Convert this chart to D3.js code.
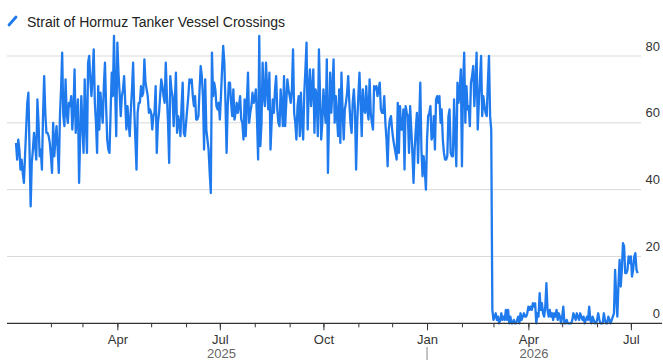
<!DOCTYPE html>
<html>
<head>
<meta charset="utf-8">
<script src="https://cdn.jsdelivr.net/npm/d3@7"></script>
<style>
  html, body { margin: 0; padding: 0; background: #fff; }
  svg { display: block; font-family: "Liberation Sans", Arial, Helvetica, sans-serif; }
</style>
</head>
<body>
<svg id="chart" width="663" height="361"></svg>
<script>
// ---- data ----
const seriesName = "Strait of Hormuz Tanker Vessel Crossings";
const firstDay = "2025-01-01";
const values2025 = [
  54,49,55,52,46,49,45,42,50,58, 66,69,52,35,48,52,57,53,49,67,
  60,50,52,46,62,74,63,57,57,56, 54,50,45,60,50,55,59,52,45,62,
  70,81,62,59,73,63,60,66,65,68, 58,64,76,57,62,67,42,56,68,59,
  51,73,60,51,78,80,73,68,74,82, 66,60,51,71,58,69,64,60,71,78,
  65,55,52,51,63,75,68,86,70,56, 84,75,69,62,68,70,74,66,58,65,
  60,56,64,70,78,64,55,46,63,66, 66,71,68,69,79,72,70,68,63,64,
  63,58,62,63,71,51,60,63,68,73, 71,68,66,78,68,60,48,74,70,68,
  59,66,75,57,62,60,56,65,72,57, 56,60,64,68,73,72,73,68,65,68,
  61,61,62,70,77,74,68,52,73,58, 55,52,45,39,81,68,72,70,65,64,
  66,61,68,76,83,78,66,51,65,72, 72,66,62,70,61,63,66,63,65,68,
  61,60,55,67,56,66,75,60,63,65, 69,66,67,70,61,49,86,53,60,78,
  68,65,78,70,64,75,52,60,67,63, 70,74,64,60,59,70,65,59,74,59,
  66,73,70,68,66,70,82,63,60,55, 65,68,56,69,60,55,69,76,84,58,
  70,76,65,70,76,57,70,68,56,82, 68,55,60,70,64,60,79,45,62,75,
  63,70,79,60,68,62,56,70,54,75, 64,55,64,66,69,74,66,60,57,66,
  70,64,46,60,68,75,66,56,70,64, 63,71,64,61,73,63,60,58,71,70,
  71,68,70,72,64,63,63,68,60,55, 47,58,61,62,58,55,53,51,49,66,
  51,65,58,58,64,46,65,63,62,51, 65,58,51,42,52,58,63,48,60,72,
  52,44,50,46,40
];
const values2026 = [
  55,62,63,65,55,56,62,52,67,68, 66,68,60,64,55,51,49,49,50,62,
  64,51,50,50,67,56,47,72,66,70, 76,47,72,81,60,71,64,65,59,72,
  74,77,65,72,81,58,66,73,80,62, 68,65,63,62,72,80,62,58,
  4,1,2,3,1,2,0,1,3,1, 2,1,4,1,4,0,2,0,0,1,
  0,0,1,2,0,3,1,2,3,2, 2,3,5,4,5,4,6,5,6,0,
  3,2,9,4,6,3,2,5,12,4, 2,4,2,3,1,3,2,4,1,3,
  2,0,2,5,0,0,1,0,0,0, 0,1,3,2,1,3,2,1,3,2,
  1,2,0,1,2,1,5,1,0,2, 1,0,0,1,3,1,0,0,0,3,
  1,0,0,2,1,0,1,2,3,16, 8,2,12,19,11,16,24,23,15,15,
  16,20,18,20,14,16,20,21,16,15
];
const yTicks = [0, 20, 40, 60, 80];
const xDomain = ["2024-12-24", "2026-07-10"];
const firstTick = "2025-02-01";
const yearLabels = ["2025", "2026"];

// ---- build ----
const parse = d3.timeParse("%Y-%m-%d");
const start = parse(firstDay);
const allValues = values2025.concat(values2026);
const data = allValues.map((v, i) => ({ date: d3.timeDay.offset(start, i), value: v }));

const svg = d3.select("#chart");
const plotLeft = 7, plotRight = 641, yTop = 56, yBottom = 323.3;

const x = d3.scaleTime().domain(xDomain.map(parse)).range([plotLeft, plotRight]);
const y = d3.scaleLinear().domain([0, 80]).range([yBottom, yTop]);

// gridlines
svg.append("g").selectAll("line").data(yTicks.filter(t => t > 0)).join("line")
  .attr("x1", plotLeft).attr("x2", plotRight)
  .attr("y1", d => y(d)).attr("y2", d => y(d))
  .attr("stroke", "#d9d9d9").attr("stroke-width", 1);

// y labels (right, above lines)
svg.append("g").selectAll("text").data(yTicks).join("text")
  .attr("x", 660).attr("y", d => y(d) - 5.5)
  .attr("text-anchor", "end")
  .attr("font-size", 13).attr("fill", "#333")
  .text(d => d);

// line
const line = d3.line().x(d => x(d.date)).y(d => y(d.value)).curve(d3.curveLinear);
svg.append("path").datum(data)
  .attr("d", line)
  .attr("fill", "none")
  .attr("stroke", "#1f7aee")
  .attr("stroke-width", 2.3)
  .attr("stroke-linejoin", "round");

// x axis
const axisG = svg.append("g").attr("transform", `translate(0,${yBottom})`);
axisG.append("line").attr("x1", plotLeft).attr("x2", 662).attr("y1", 0).attr("y2", 0)
  .attr("stroke", "#333").attr("stroke-width", 1.2);

const tStart = parse(firstTick), tEnd = x.domain()[1];
const monthTicks = d3.timeMonth.range(tStart, tEnd);
const quarterTicks = monthTicks.filter(d => d.getMonth() % 3 === 0);

const minorAxis = d3.axisBottom(x).tickValues(monthTicks).tickSize(4).tickFormat("");
const minorG = axisG.append("g").call(minorAxis);
minorG.select(".domain").remove();
minorG.selectAll(".tick line").attr("stroke", "#333");

const majorAxis = d3.axisBottom(x).tickValues(quarterTicks).tickSize(7)
  .tickPadding(4).tickFormat(d3.timeFormat("%b"));
const majorG = axisG.append("g").call(majorAxis);
majorG.select(".domain").remove();
majorG.selectAll(".tick line").attr("stroke", "#333");
majorG.selectAll(".tick text").attr("font-size", 13).attr("fill", "#333")
  .attr("font-family", "Liberation Sans, Arial, sans-serif");

// year labels
const yearStarts = yearLabels.map(yv => parse(yv + "-01-01"));
const yearCenters = yearStarts.map((s, i) => {
  const e = i + 1 < yearStarts.length ? yearStarts[i + 1] : tEnd;
  return (x(s) + x(e)) / 2;
});
svg.append("g").selectAll("text").data(yearLabels).join("text")
  .attr("x", (d, i) => yearCenters[i]).attr("y", 358)
  .attr("text-anchor", "middle").attr("font-size", 13).attr("fill", "#666")
  .text(d => d);
svg.append("line")
  .attr("x1", x(yearStarts[1])).attr("x2", x(yearStarts[1]))
  .attr("y1", 347).attr("y2", 360)
  .attr("stroke", "#888").attr("stroke-width", 1);

// legend
svg.append("line").attr("x1", 9).attr("y1", 25).attr("x2", 16).attr("y2", 17)
  .attr("stroke", "#1f7aee").attr("stroke-width", 2.8).attr("stroke-linecap", "round");
svg.append("text").attr("x", 27).attr("y", 26.5)
  .attr("font-size", 14).attr("fill", "#222")
  .text(seriesName);
</script>
</body>
</html>
